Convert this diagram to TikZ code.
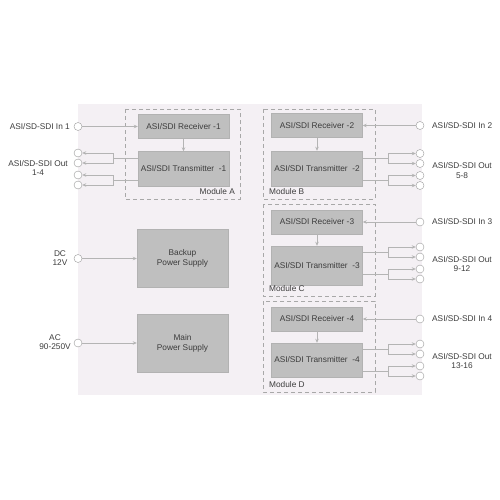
\documentclass[tikz,border=0pt]{standalone}
\usepackage{fontspec}
\setmainfont{Liberation Sans}
\usetikzlibrary{positioning, arrows.meta}
\definecolor{panelbg}{HTML}{F4F0F4}
\definecolor{blkfill}{HTML}{BFBFBF}
\definecolor{blkline}{HTML}{B2B2B2}
\definecolor{wiregray}{HTML}{B4B4B4}
\definecolor{dashgray}{HTML}{A8A8A8}
\definecolor{portgray}{HTML}{9A9A9A}
\definecolor{txtgray}{HTML}{3C3C3C}
\tikzset{>={Stealth[length=4pt,width=3.5pt]}}
\tikzset{
  blk/.style={draw=blkline, fill=blkfill, minimum width=91pt, inner sep=1pt,
    font=\fontsize{8.3}{10}\selectfont, text=txtgray, align=center},
  rx/.style={blk, minimum height=24pt},
  tx/.style={blk, minimum height=35pt},
  psu/.style={blk, minimum height=58pt},
  port/.style={circle, draw=portgray, fill=white, minimum size=8pt, inner sep=0pt},
  wire/.style={draw=wiregray, line width=0.7pt},
  modbox/.style={draw=dashgray, dash pattern=on 4pt off 3pt, line width=0.7pt},
  lbl/.style={font=\fontsize{8.3}{9.5}\selectfont, text=txtgray, align=center, inner sep=1pt},
}

\begin{document}
\begin{tikzpicture}[x=1pt, y=-1pt]
    \useasboundingbox (0,0) rectangle (500,500);
    \fill[panelbg] (78,104) rectangle (422,395);

    % module A, ports on the left
    \draw[modbox] (125,109) rectangle (240,199);
    \node[rx] (rxA) at (183.5,126.5) {ASI/SDI Receiver -1};
    \node[tx] (txA) at (183.5,169) {ASI/SDI Transmitter~ -1};
    \node[lbl, anchor=east] (modA) at (236,192) {Module A};
    \node[port] (inA) at (78,126.5) {};
    \node[port] (oA1) at (78,153) {};
    \node[port] (oA2) at (78,163) {};
    \node[port] (oA3) at (78,175) {};
    \node[port] (oA4) at (78,185) {};
    \coordinate (sA1) at (113,158);
    \coordinate (sA2) at (113,180);
    \node[lbl, anchor=east] (lblinA) at (71,126.5) {ASI/SD-SDI In 1};
    \node[lbl] (lbloA) at (38,168) {ASI/SD-SDI Out\\1-4};

    \draw[wire, ->] (inA) -- (rxA);
    \draw[wire, ->] (rxA) -- (txA);
    \draw[wire] (txA.west |- sA1) -- (sA1);
    \draw[wire] (txA.west |- sA2) -- (sA2);
    \draw[wire, ->] (sA1) |- (oA1);
    \draw[wire, ->] (sA1) |- (oA2);
    \draw[wire, ->] (sA2) |- (oA3);
    \draw[wire, ->] (sA2) |- (oA4);

    % modules B, C, D, ports on the right
    \foreach \m/\yt/\yb/\yr/\yx/\hx/\yo/\n/\rng in
      {B/109/199/125.5/168.5/35/169.5/2/5-8,
       C/204/296/222/265.5/39/263/3/9-12,
       D/301/392/319/360/34/360/4/13-16} {
      \draw[modbox] (263,\yt) rectangle (375,\yb);
      \node[rx] (rx\m) at (317,\yr) {ASI/SDI Receiver -\n};
      \node[tx, minimum height=\hx pt] (tx\m) at (317,\yx) {ASI/SDI Transmitter~ -\n};
      \node[lbl, anchor=west] (mod\m) at (268,\yb-7) {Module \m};
      \node[port] (in\m) at (420,\yr) {};
      \node[port] (o\m1) at (420,\yo-16) {};
      \node[port] (o\m2) at (420,\yo-6) {};
      \node[port] (o\m3) at (420,\yo+6) {};
      \node[port] (o\m4) at (420,\yo+16) {};
      \coordinate (s\m1) at (388,\yo-11);
      \coordinate (s\m2) at (388,\yo+11);
      \node[lbl, anchor=west] (lblin\m) at (431,\yr) {ASI/SD-SDI In \n};
      \node[lbl] (lblo\m) at (462,\yo+1) {ASI/SD-SDI Out\\\rng};

      \draw[wire, ->] (in\m) -- (rx\m);
      \draw[wire, ->] (rx\m) -- (tx\m);
      \draw[wire] (tx\m.east |- s\m1) -- (s\m1);
      \draw[wire] (tx\m.east |- s\m2) -- (s\m2);
      \draw[wire, ->] (s\m1) |- (o\m1);
      \draw[wire, ->] (s\m1) |- (o\m2);
      \draw[wire, ->] (s\m2) |- (o\m3);
      \draw[wire, ->] (s\m2) |- (o\m4);
    }

    % power
    \node[psu] (bkp) at (182.5,258.5) {Backup\\Power Supply};
    \node[psu, below=26pt of bkp] (mains) {Main\\Power Supply};
    \node[port] (dc) at (78,258.5) {};
    \node[port] (ac) at (78,343) {};
    \node[lbl] (lbldc) at (60,258) {DC\\12V};
    \node[lbl] (lblac) at (55,342) {AC\\90-250V};
    \draw[wire, ->] (dc) -- (bkp);
    \draw[wire, ->] (ac) -- (ac -| mains.west);
\end{tikzpicture}
\end{document}
